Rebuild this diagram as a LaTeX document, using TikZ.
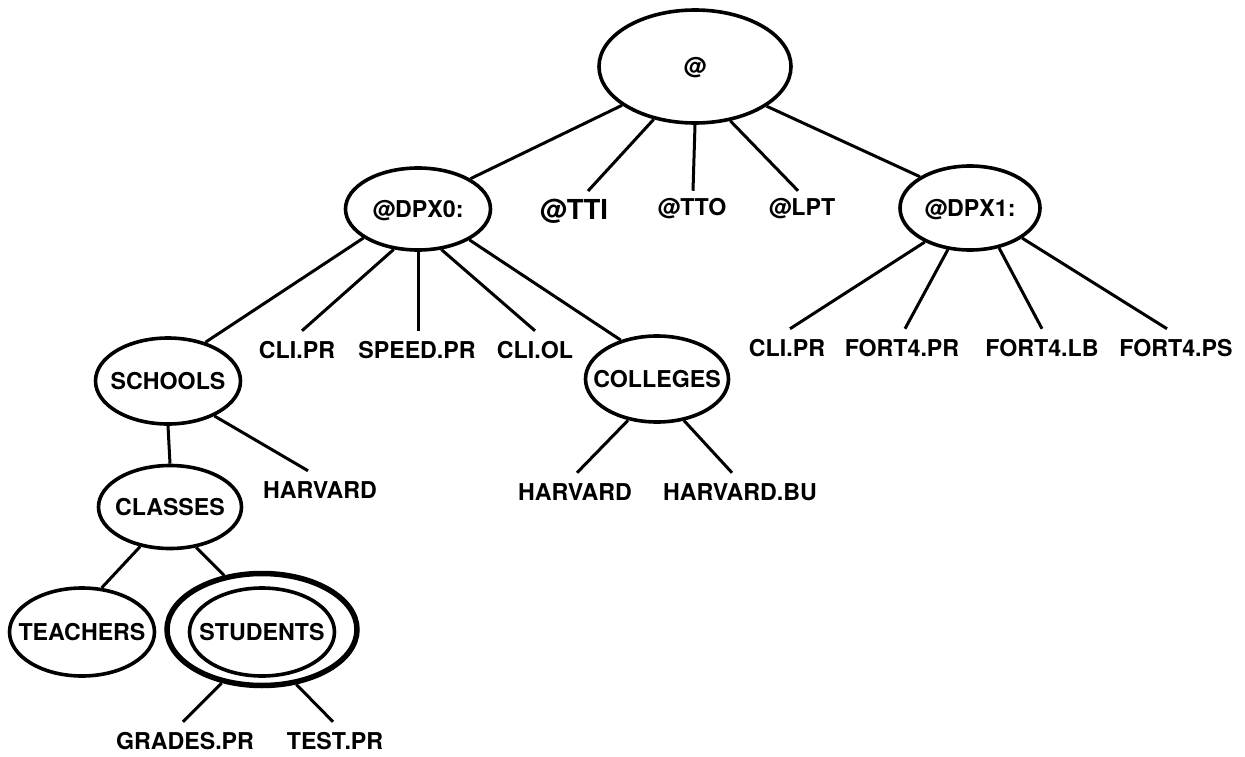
\documentclass[tikz,border=0pt]{standalone}
\usepackage{fontspec}
\setmainfont{TeX Gyre Heros}
\usetikzlibrary{shapes.geometric}
\begin{document}
\begin{tikzpicture}[x=1pt,y=-1pt,
  lbl/.style={font=\fontsize{23.2}{25}\selectfont\bfseries, text height=16.5pt, text depth=0pt},
  dir/.style={ellipse, draw, line width=3.6pt, inner sep=0pt, label={[lbl, inner sep=0pt]center:#1}},
  leaf/.style={lbl, inner xsep=2pt, inner ysep=10.8pt},
  topleaf/.style={lbl, inner xsep=2pt, inner ysep=7.8pt},
  link/.style={line width=3pt}]
\useasboundingbox (0,0) rectangle (1245,757);

% directories (ellipses of fixed size, name set in the middle)
\node[dir=@, minimum width=192pt, minimum height=113pt] (root) at (695,66.5) {};
\node[dir=@DPX0:, minimum width=145pt, minimum height=82pt] (dpx0) at (418,209) {};
\node[dir=@DPX1:, minimum width=140pt, minimum height=84pt] (dpx1) at (970,208) {};
\node[dir=SCHOOLS, minimum width=145pt, minimum height=86pt] (schools) at (168,381) {};
\node[dir=COLLEGES, minimum width=143pt, minimum height=86pt] (colleges) at (657,379) {};
\node[dir=CLASSES, minimum width=143pt, minimum height=83pt] (classes) at (170,507) {};
\node[dir=TEACHERS, minimum width=145pt, minimum height=88pt] (teachers) at (82,632) {};
\node[ellipse, draw, line width=5.5pt, inner sep=0pt, minimum width=190pt, minimum height=112pt] (ring) at (262,629.5) {};
\node[dir=STUDENTS, minimum width=145pt, minimum height=88pt] (students) at (262,632) {};

% devices and files
\node[topleaf, font=\fontsize{27.5}{30}\selectfont\bfseries, text height=20pt] (tti) at (574,209) {@TTI};
\node[topleaf] (tto) at (692,207) {@TTO};
\node[topleaf] (lpt) at (802,207) {@LPT};
\node[leaf] (clipra) at (297,350) {CLI.PR};
\node[leaf] (speed) at (417,350) {SPEED.PR};
\node[leaf] (cliol) at (535,350) {CLI.OL};
\node[leaf] (cliprb) at (787,348) {CLI.PR};
\node[leaf] (fortpr) at (902,348) {FORT4.PR};
\node[leaf] (fortlb) at (1042,348) {FORT4.LB};
\node[leaf] (fortps) at (1176,348) {FORT4.PS};
\node[leaf] (harva) at (320,490) {HARVARD};
\node[leaf] (harvb) at (575,492) {HARVARD};
\node[leaf] (harvbu) at (740,492) {HARVARD.BU};
\node[leaf] (grades) at (185,741) {GRADES.PR};
\node[leaf] (testpr) at (335,741) {TEST.PR};

% branches from the root
\draw[link] (root.208) -- (dpx0.30);
\draw[link] (root.232.6) -- ([xshift=14pt]tti.north);
\draw[link] (root.270) -- ([xshift=1pt]tto.north);
\draw[link] (root.303.5) -- ([xshift=-4pt]lpt.north);
\draw[link] (root.331.3) -- (dpx1.148);

% branches from @DPX0:
\draw[link] (dpx0.208) -- (schools.46);
\draw[link] (dpx0.239) -- ([xshift=5pt]clipra.north);
\draw[link] (dpx0.270) -- ([xshift=1pt]speed.north);
\draw[link] (dpx0.300) -- (cliol.north);
\draw[link] (dpx0.329) -- (colleges.133.5);

% branches from @DPX1:
\draw[link] (dpx1.217.6) -- ([xshift=3pt]cliprb.north);
\draw[link] (dpx1.242) -- ([xshift=3pt]fortpr.north);
\draw[link] (dpx1.306.7) -- (fortlb.north);
\draw[link] (dpx1.330.6) -- ([xshift=-9pt]fortps.north);

% SCHOOLS and COLLEGES
\draw[link] (schools.270) -- (classes.90);
\draw[link] (schools.323.7) -- ([xshift=-12pt]harva.north);
\draw[link] (colleges.235) -- ([xshift=2pt]harvb.north);
\draw[link] (colleges.303) -- ([xshift=-8pt]harvbu.north);

% CLASSES and STUDENTS
\draw[link] (classes.233.7) -- (teachers.66);
\draw[link] (classes.303.7) -- (ring.125.8);
\draw[link] (ring.233.5) -- ([xshift=-2pt]grades.north);
\draw[link] (ring.302.7) -- ([xshift=-2pt]testpr.north);
\end{tikzpicture}
\end{document}
